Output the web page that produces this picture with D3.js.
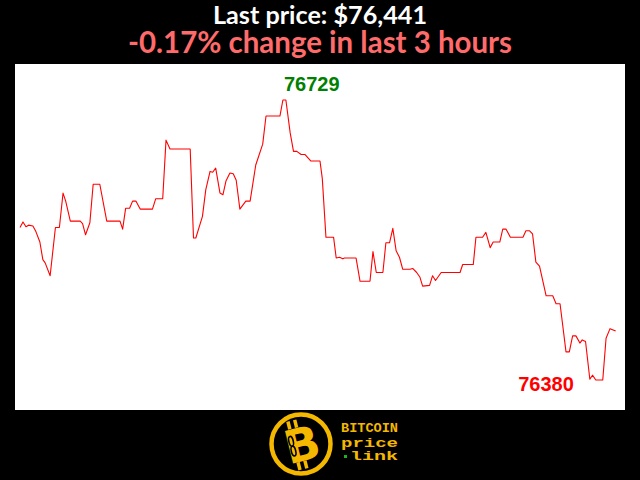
<!DOCTYPE html>
<html><head><meta charset="utf-8">
<script src="https://cdn.jsdelivr.net/npm/d3@7"></script>
<style>html,body{margin:0;padding:0;background:#000;}svg{display:block}</style>
</head><body>
<svg id="c" width="640" height="480"></svg>
<script>
// minutes since start of the 3-hour window
const minutes = [0,0.9,1.8,2.6,3.9,4.8,6,6.9,7.6,9.1,10.7,11.9,13,13.8,15.2,18.2,18.9,19.8,21.1,22.1,24.1,26.2,30.2,31,31.9,33.1,34,35,36.3,40,41,43.1,44.1,45.3,51.4,52.4,53.1,55.1,56.1,57.4,58.2,59.1,60.4,61.3,62.2,63.4,64.4,65.3,66.4,68.2,69.5,71.2,73.3,74.3,78.5,79.4,80.3,81.6,82.6,83.6,84.9,86.1,87.8,90.6,91.3,92.4,94.7,95.5,96.5,97.5,98,101.5,102.7,105.7,106.6,107.6,109.6,110.5,111.6,112.6,113.6,114.6,115.6,117.8,118.6,119.8,120.8,121.6,123.7,124.6,125.5,127.2,132.9,133.7,136.9,137.7,139.7,140.7,142,142.9,144.9,145.8,146.8,148.1,151.9,152.8,153.9,154.8,155.8,156.9,158.9,160.9,161.9,163.1,164.9,165.9,166.9,167.9,169.1,169.8,170.8,172.1,172.9,173.9,176,177,178.2,179.9];
const prices = [76570,76577,76571,76573,76572,76565,76552,76530,76526,76510,76570,76570,76613,76603,76578,76578,76575,76561,76576,76624,76624,76578,76578,76568,76594,76594,76603,76603,76593,76593,76606,76606,76679,76668,76668,76557,76557,76584,76617,76640,76639,76644,76613,76611,76628,76638,76637,76629,76593,76603,76603,76648,76674,76709,76709,76729,76729,76688,76665,76665,76661,76661,76653,76653,76631,76558,76558,76532,76533,76531,76532,76532,76503,76503,76540,76514,76514,76551,76551,76569,76541,76533,76518,76518,76519,76514,76508,76497,76498,76510,76504,76514,76514,76524,76524,76558,76558,76564,76545,76552,76552,76568,76568,76558,76558,76566,76566,76562,76527,76522,76485,76485,76475,76475,76415,76415,76435,76435,76426,76430,76428,76381,76386,76380,76380,76432,76444,76441];
const titleText = "Last price: $76,441";
const subtitleText = "-0.17% change in last 3 hours";
const logoLines = ["BITCOIN", "price", "link"];

const svg = d3.select("#c");
const W = 640, H = 480;
svg.append("rect").attr("width", W).attr("height", H).attr("fill", "#000");

// plot panel
const panel = {x: 15, y: 64, w: 610, h: 346};
svg.append("rect").attr("x", panel.x).attr("y", panel.y).attr("width", panel.w).attr("height", panel.h).attr("fill", "#fff");

const x = d3.scaleLinear().domain([0, 180]).range([20, 616]);
const y = d3.scaleLinear().domain([d3.min(prices), d3.max(prices)]).range([380, 100]);

const data = minutes.map((m, i) => ({m, p: prices[i]}));
svg.append("path").datum(data)
  .attr("fill", "none").attr("stroke", "#ff0000").attr("stroke-width", 1.1)
  .attr("stroke-linejoin", "round")
  .attr("d", d3.line().x(d => x(d.m)).y(d => y(d.p)));

// max / min labels
const iMax = d3.maxIndex(prices), iMin = d3.minIndex(prices);
svg.append("text").attr("x", x(minutes[iMax]) + 1).attr("y", y(prices[iMax]) - 9)
  .attr("fill", "#008000").attr("font-family", "'Liberation Sans', Arial, sans-serif")
  .attr("font-weight", "bold").attr("font-size", 20).text(prices[iMax]);
svg.append("text").attr("x", x(minutes[iMin]) - 22).attr("y", y(prices[iMin]) + 11)
  .attr("text-anchor", "end")
  .attr("fill", "#ff0000").attr("font-family", "'Liberation Sans', Arial, sans-serif")
  .attr("font-weight", "bold").attr("font-size", 20).text(prices[iMin]);

// titles
svg.append("text").attr("x", W / 2).attr("y", 24).attr("text-anchor", "middle")
  .attr("fill", "#fff").attr("font-family", "Lato, sans-serif").attr("font-weight", 700)
  .attr("font-size", 25).attr("textLength", 214).attr("lengthAdjust", "spacingAndGlyphs")
  .text(titleText);
svg.append("text").attr("x", W / 2).attr("y", 52.5).attr("text-anchor", "middle")
  .attr("fill", "#ff6b6b").attr("font-family", "Lato, sans-serif").attr("font-weight", 700)
  .attr("font-size", 29.5).attr("textLength", 384).attr("lengthAdjust", "spacingAndGlyphs")
  .text(subtitleText);

// logo
const gold = "#f5b800";
const logo = svg.append("g").attr("transform", "translate(301,444)");
logo.append("circle").attr("r", 29.5).attr("fill", "#000").attr("stroke", gold).attr("stroke-width", 4.5);
const b = logo.append("g").attr("transform", "rotate(-14)");
b.append("rect").attr("x", -9).attr("y", -25).attr("width", 3.5).attr("height", 8).attr("fill", gold);
b.append("rect").attr("x", -2).attr("y", -25).attr("width", 3.5).attr("height", 8).attr("fill", gold);
b.append("rect").attr("x", -9).attr("y", 17).attr("width", 3.5).attr("height", 8).attr("fill", gold);
b.append("rect").attr("x", -2).attr("y", 17).attr("width", 3.5).attr("height", 8).attr("fill", gold);
b.append("text").attr("x", 1).attr("y", 17).attr("text-anchor", "middle")
  .attr("fill", gold).attr("font-family", "'DejaVu Sans', sans-serif").attr("font-weight", "bold")
  .attr("font-size", 46).text("B");
b.append("ellipse").attr("cx", -9).attr("cy", -5).attr("rx", 2.2).attr("ry", 5).attr("fill", "none").attr("stroke", "#000").attr("stroke-width", 1.6);
b.append("ellipse").attr("cx", -9).attr("cy", 5).attr("rx", 2.2).attr("ry", 5).attr("fill", "none").attr("stroke", "#000").attr("stroke-width", 1.6);

const lt = svg.append("g").attr("fill", gold).attr("font-family", "'Liberation Mono', 'Courier New', monospace").attr("font-weight", "bold");
lt.append("text").attr("x", 341).attr("y", 432).attr("font-size", 12).attr("textLength", 57).attr("lengthAdjust", "spacingAndGlyphs").text(logoLines[0]);
lt.append("text").attr("x", 341).attr("y", 446.5).attr("font-size", 13).attr("textLength", 57).attr("lengthAdjust", "spacingAndGlyphs").text(logoLines[1]);
lt.append("text").attr("x", 350).attr("y", 460).attr("font-size", 13).attr("textLength", 48).attr("lengthAdjust", "spacingAndGlyphs").text(logoLines[2]);
svg.append("rect").attr("x", 344).attr("y", 455).attr("width", 3).attr("height", 3).attr("fill", "#1db31d");
</script>
</body></html>
